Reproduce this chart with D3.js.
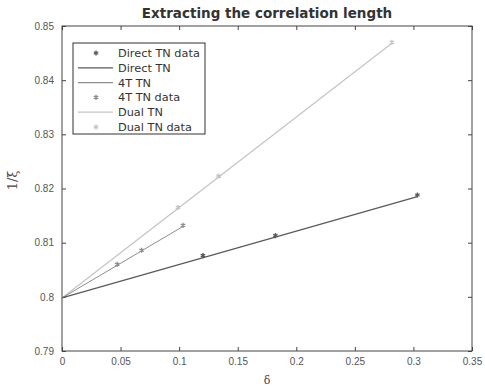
<!DOCTYPE html>
<html>
<head>
<meta charset="utf-8">
<script src="https://cdn.jsdelivr.net/npm/d3@7"></script>
<style>
  body { margin: 0; background: #fff; }
  svg { display: block; font-family: "DejaVu Sans", sans-serif; }
</style>
</head>
<body>
<div id="chart"></div>
<script>
// data
var directX = [0.1203, 0.1822, 0.3034],
    directY = [0.8076, 0.8113, 0.8188],
    fourX = [0.0471, 0.0679, 0.1033],
    fourY = [0.8060, 0.8086, 0.8132],
    dualX = [0.0990, 0.1337, 0.2816],
    dualY = [0.8165, 0.8223, 0.8470];

// fitted lines (start, end)
var directFitX = [0, 0.3034], directFitY = [0.7998, 0.8185],
    fourFitX = [0, 0.1033], fourFitY = [0.7998, 0.8130],
    dualFitX = [0, 0.2816], dualFitY = [0.7998, 0.8468];

var xTicks = [0, 0.05, 0.1, 0.15, 0.2, 0.25, 0.3, 0.35],
    yTicks = [0.79, 0.8, 0.81, 0.82, 0.83, 0.84, 0.85];

var legendNames = ["Direct TN data", "Direct TN", "4T TN", "4T TN data", "Dual TN", "Dual TN data"];

var W = 485, H = 388,
    m = {left: 62, right: 13, top: 26, bottom: 37};

var svg = d3.select("#chart").append("svg").attr("width", W).attr("height", H);

var x = d3.scaleLinear().domain([0, 0.35]).range([m.left, W - m.right]),
    y = d3.scaleLinear().domain([0.79, 0.85]).range([H - m.bottom, m.top]);

var axisCol = "#444", tickTxt = "#555";

function styleAxis(g, hideText) {
    g.select(".domain").remove();
    g.selectAll(".tick line").attr("stroke", axisCol);
    g.selectAll(".tick text").attr("fill", tickTxt).style("font-size", "10px");
    if (hideText) { g.selectAll(".tick text").remove(); }
}

svg.append("g").attr("transform", "translate(0," + (H - m.bottom) + ")")
    .call(d3.axisBottom(x).tickValues(xTicks).tickSize(-4).tickPadding(7).tickFormat(d3.format("")))
    .call(styleAxis);
svg.append("g").attr("transform", "translate(0," + m.top + ")")
    .call(d3.axisTop(x).tickValues(xTicks).tickSize(-4))
    .call(function (g) { styleAxis(g, true); });
svg.append("g").attr("transform", "translate(" + m.left + ",0)")
    .call(d3.axisLeft(y).tickValues(yTicks).tickSize(-4).tickPadding(8).tickFormat(d3.format("")))
    .call(styleAxis);
svg.append("g").attr("transform", "translate(" + (W - m.right) + ",0)")
    .call(d3.axisRight(y).tickValues(yTicks).tickSize(-4))
    .call(function (g) { styleAxis(g, true); });

// box
svg.append("rect")
    .attr("x", x(0)).attr("y", y(0.85))
    .attr("width", x(0.35) - x(0)).attr("height", y(0.79) - y(0.85))
    .attr("fill", "none").attr("stroke", axisCol).attr("stroke-width", 1);

var line = d3.line().x(function (d) { return x(d[0]); }).y(function (d) { return y(d[1]); });

function drawFit(xs, ys, col, w) {
    svg.append("path").datum(d3.zip(xs, ys))
        .attr("d", line).attr("fill", "none").attr("stroke", col).attr("stroke-width", w);
}

var marker = d3.symbol().type(d3.symbolAsterisk || d3.symbolCross).size(18);

function drawPts(xs, ys, col) {
    svg.append("g").selectAll("path").data(d3.zip(xs, ys)).join("path")
        .attr("transform", function (d) { return "translate(" + x(d[0]) + "," + y(d[1]) + ")"; })
        .attr("d", marker).attr("fill", col).attr("stroke", col).attr("stroke-width", 1.3);
}

var cDirect = "#5a5a5a", cFour = "#8e8e8e", cDual = "#c4c4c4";

drawFit(dualFitX, dualFitY, cDual, 1.2);
drawFit(fourFitX, fourFitY, cFour, 1);
drawFit(directFitX, directFitY, cDirect, 1.3);
drawPts(dualX, dualY, cDual);
drawPts(fourX, fourY, cFour);
drawPts(directX, directY, cDirect);

// legend
var leg = svg.append("g").attr("transform", "translate(73,43)");
leg.append("rect").attr("width", 132).attr("height", 91)
    .attr("fill", "#fff").attr("stroke", "#333").attr("stroke-width", 1);
var legKinds = [["p", cDirect], ["l", cDirect], ["l", cFour], ["p", cFour], ["l", cDual], ["p", cDual]];
legendNames.forEach(function (name, i) {
    var ry = 10 + i * 14.8,
        row = leg.append("g").attr("transform", "translate(0," + ry + ")");
    if (legKinds[i][0] === "l") {
        row.append("line").attr("x1", 5).attr("x2", 40).attr("y1", 0).attr("y2", 0)
            .attr("stroke", legKinds[i][1]).attr("stroke-width", 1.2);
    } else {
        row.append("path").attr("transform", "translate(23,0)")
            .attr("d", marker)
            .attr("fill", legKinds[i][1]).attr("stroke", legKinds[i][1]).attr("stroke-width", 1.3);
    }
    row.append("text").attr("x", 45).attr("y", 4).text(name)
        .attr("fill", "#333").style("font-size", "11.3px");
});

// title and labels
svg.append("text").attr("x", (x(0) + x(0.35)) / 2).attr("y", 18)
    .attr("text-anchor", "middle").style("font-size", "13.5px").style("font-weight", "bold")
    .attr("fill", "#333").text("Extracting the correlation length");
svg.append("text").attr("x", (x(0) + x(0.35)) / 2).attr("y", 384)
    .attr("text-anchor", "middle").style("font-size", "11px").attr("fill", "#444")
    .style("font-family", "'DejaVu Serif', serif").text("δ");
svg.append("text").attr("transform", "translate(17," + y(0.8215) + ") rotate(-90)")
    .attr("text-anchor", "middle").style("font-size", "13px").attr("fill", "#444")
    .style("font-family", "'DejaVu Serif', serif").text("1/ξ");
</script>
</body>
</html>
